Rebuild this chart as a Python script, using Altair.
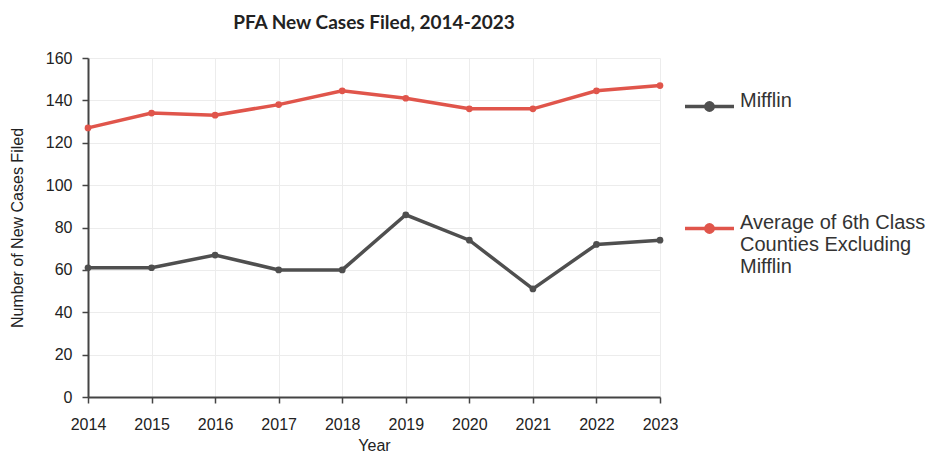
import altair as alt
import pandas as pd

years = [2014, 2015, 2016, 2017, 2018, 2019, 2020, 2021, 2022, 2023]
mifflin = [61, 61, 67, 60, 60, 86, 74, 51, 72, 74]
average = [127, 134, 133, 138, 144.5, 141, 136, 136, 144.5, 147]
series_names = ["Mifflin", "Average of 6th Class Counties Excluding Mifflin"]
series_colors = ["#4f4f4f", "#e0554b"]
y_ticks = [0, 20, 40, 60, 80, 100, 120, 140, 160]

rows = []
for y, v in zip(years, mifflin):
    rows.append({"Year": y, "Value": v, "Series": series_names[0]})
for y, v in zip(years, average):
    rows.append({"Year": y, "Value": v, "Series": series_names[1]})
df = pd.DataFrame(rows)

FONT = "Liberation Sans"

x_enc = alt.X("Year:Q", title="Year",
              scale=alt.Scale(domain=[2014, 2023], nice=False, zero=False),
              axis=alt.Axis(values=years, format="d", labelFontSize=16, titleFontSize=16,
                            labelPadding=13, titlePadding=5, tickSize=6,
                            labelFlush=False))
y_enc = alt.Y("Value:Q", title="Number of New Cases Filed",
              scale=alt.Scale(domain=[0, 160], nice=False),
              axis=alt.Axis(values=y_ticks, labelFontSize=16, titleFontSize=16,
                            labelPadding=10, titlePadding=20, tickSize=6))
color_enc = alt.Color("Series:N",
                      scale=alt.Scale(domain=series_names, range=series_colors),
                      sort=series_names,
                      legend=alt.Legend(
                          title=None, orient="none", legendX=595, legendY=22,
                          symbolType="M-1,0L1,0M-0.15,0a0.15,0.15 0 1,0 0.3,0a0.15,0.15 0 1,0 -0.3,0",
                          symbolSize=2400, symbolStrokeWidth=3.5,
                          labelFontSize=20, labelFont=FONT, labelColor="#333333",
                          labelLimit=400, rowPadding=84, labelOffset=4,
                          labelBaseline="alphabetic",
                          labelExpr="datum.label == 'Mifflin' ? 'Mifflin' : ['Average of 6th Class', 'Counties Excluding', 'Mifflin']"))

lines = alt.Chart(df).mark_line(strokeWidth=3.5).encode(x=x_enc, y=y_enc, color=color_enc)
points = alt.Chart(df).mark_point(filled=True, size=45, opacity=1).encode(
    x=x_enc, y=y_enc, color=alt.Color("Series:N", scale=alt.Scale(domain=series_names, range=series_colors), legend=None))

chart = alt.layer(lines, points).properties(
    width=572, height=339,
    title=alt.TitleParams("PFA New Cases Filed, 2014-2023", font="Lato", fontSize=19,
                          fontWeight="bold", color="#222222", anchor="middle", offset=17),
    padding={"left": 80, "top": 50, "right": 277, "bottom": 59},
    autosize=alt.AutoSizeParams(type="none"),
).configure_axis(
    labelFont=FONT, titleFont=FONT, labelColor="#222222", titleColor="#222222",
    titleFontWeight="normal", domainColor="#444444", domainWidth=2,
    tickColor="#444444", tickWidth=1.5,
    gridColor="#ececec", gridWidth=1,
).configure_view(stroke=None)

chart.save("out.html", embed_options={"renderer": "svg", "actions": False})
